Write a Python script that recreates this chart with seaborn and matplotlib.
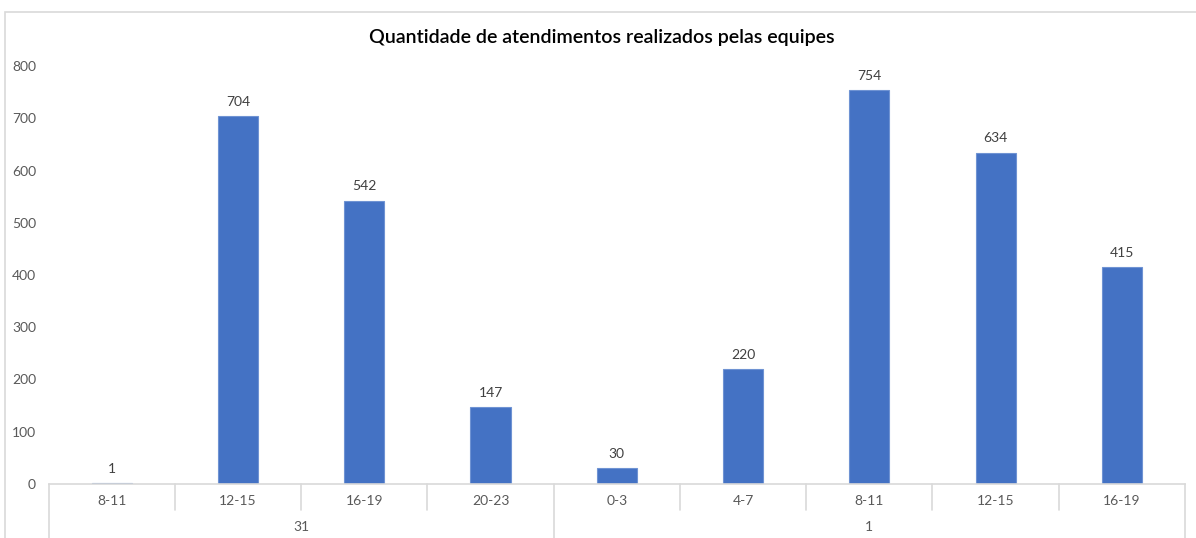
import pandas as pd
import seaborn as sns
import matplotlib.pyplot as plt
from matplotlib.patches import Rectangle

# Data
faixas = ["8-11", "12-15", "16-19", "20-23", "0-3", "4-7", "8-11", "12-15", "16-19"]
dias = ["31", "31", "31", "31", "1", "1", "1", "1", "1"]
atendimentos = [1, 704, 542, 147, 30, 220, 754, 634, 415]
grupos = ["31", "1"]

df = pd.DataFrame({"faixa": faixas, "dia": dias, "qtd": atendimentos})
df["chave"] = df["dia"] + "|" + df["faixa"]

sns.set_style("white")
plt.rcParams["font.family"] = ["Lato", "DejaVu Sans"]

fig = plt.figure(figsize=(11.96, 5.38), dpi=100)
ax = fig.add_axes([0.0406, 0.1004, 0.9502, 0.7769])

# chart area border
fig.patches.append(Rectangle((5 / 1196, -0.1), 1.2, 1 - 12 / 538 + 0.1,
                             transform=fig.transFigure, fill=False,
                             edgecolor="#d9d9d9", linewidth=1.2))

sns.barplot(data=df, x="chave", y="qtd", order=list(df["chave"]), color="#4472C4",
            width=0.317, edgecolor="#6f93d3", linewidth=0.8, saturation=1, ax=ax)

ax.set_ylim(0, 800)
ax.set_xlim(-0.5, len(faixas) - 0.5)
ax.set_yticks(range(0, 801, 100))
ax.tick_params(axis="y", length=0, pad=9, labelsize=10, labelcolor="#595959")
ax.set_xticks([])
ax.set_xlabel("")
ax.set_ylabel("")
for s in ["left", "right", "top"]:
    ax.spines[s].set_visible(False)
ax.spines["bottom"].set_color("#d9d9d9")
ax.spines["bottom"].set_linewidth(1.2)

for i, v in enumerate(atendimentos):
    ax.annotate(str(v), (i, v), xytext=(0, 6), textcoords="offset points",
                ha="center", va="bottom", fontsize=10, color="#404040")

# multi-level category axis
tr = ax.get_xaxis_transform()
for i, f in enumerate(faixas):
    ax.text(i, -0.041, f, transform=tr, ha="center", va="center",
            fontsize=10, color="#595959")
for b in range(1, len(faixas)):
    if dias[b] != dias[b - 1]:
        continue
    ax.plot([b - 0.5, b - 0.5], [0, -0.062], transform=tr, color="#d9d9d9",
            lw=1.2, clip_on=False)
inicio = 0
for g in grupos:
    n = dias.count(g)
    ax.plot([inicio - 0.5, inicio - 0.5], [0, -0.2], transform=tr, color="#d9d9d9",
            lw=1.2, clip_on=False)
    ax.text(inicio + (n - 1) / 2, -0.104, g, transform=tr, ha="center", va="center",
            fontsize=10, color="#595959")
    inicio += n
ax.plot([inicio - 0.5, inicio - 0.5], [0, -0.2], transform=tr, color="#d9d9d9",
        lw=1.2, clip_on=False)

fig.text(0.503, 1 - 38 / 538, "Quantidade de atendimentos realizados pelas equipes",
         ha="center", va="center", fontsize=14.1, color="#000000", fontweight="semibold")

fig.savefig("out.png", dpi=100)
